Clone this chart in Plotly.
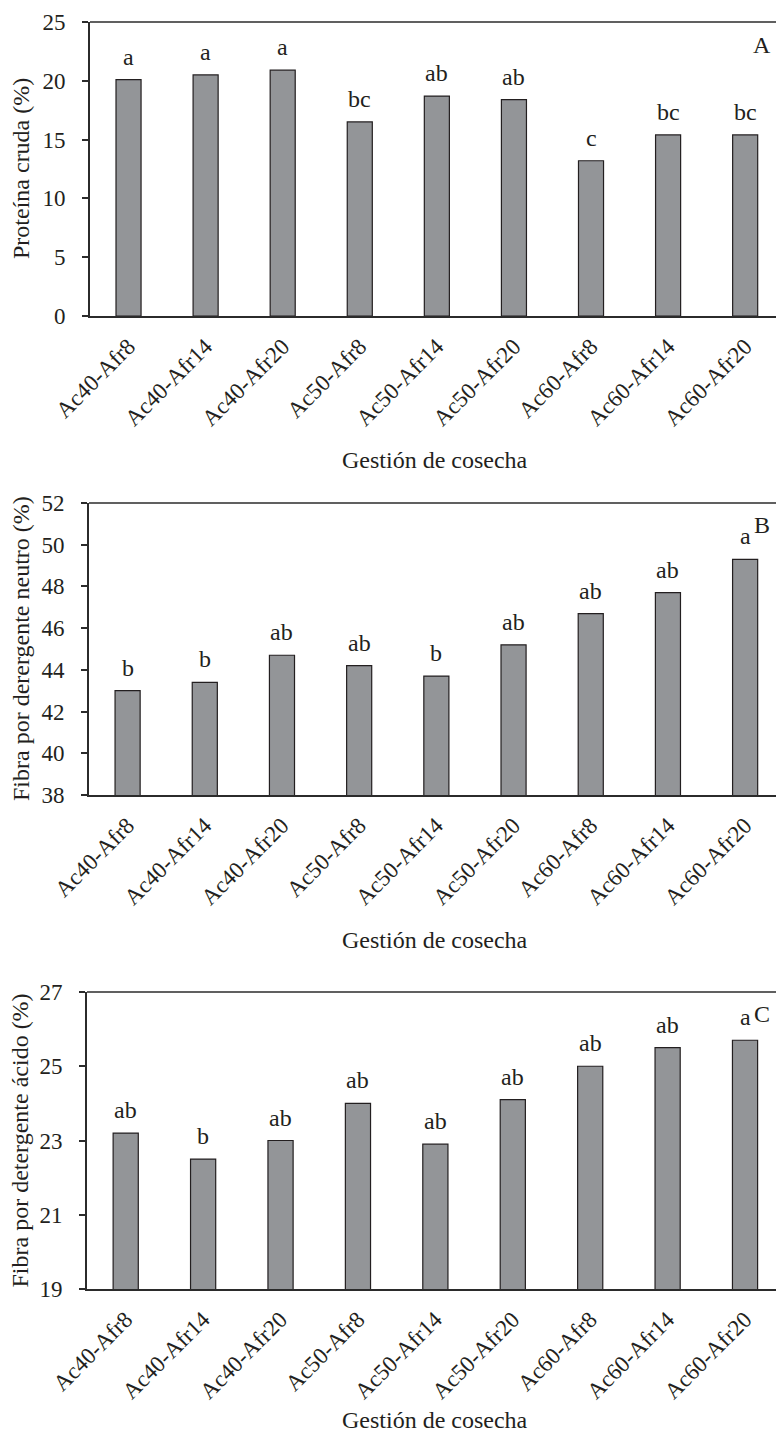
import plotly.graph_objects as go

categories = ["Ac40-Afr8", "Ac40-Afr14", "Ac40-Afr20", "Ac50-Afr8", "Ac50-Afr14",
              "Ac50-Afr20", "Ac60-Afr8", "Ac60-Afr14", "Ac60-Afr20"]

proteina = [20.1, 20.5, 20.9, 16.5, 18.7, 18.4, 13.2, 15.4, 15.4]
proteina_letters = ["a", "a", "a", "bc", "ab", "ab", "c", "bc", "bc"]

fdn = [43.0, 43.4, 44.7, 44.2, 43.7, 45.2, 46.7, 47.7, 49.3]
fdn_letters = ["b", "b", "ab", "ab", "b", "ab", "ab", "ab", "a"]

fda = [23.2, 22.5, 23.0, 24.0, 22.9, 24.1, 25.0, 25.5, 25.7]
fda_letters = ["ab", "b", "ab", "ab", "ab", "ab", "ab", "ab", "a"]

ytitles = ["Proteína cruda (%)", "Fibra por derergente neutro (%)", "Fibra por detergente ácido (%)"]
xtitle = "Gestión de cosecha"
panel_tags = ["A", "B", "C"]

W, H = 776, 1445
FONT = "Liberation Serif"
TXT = "#231f20"
BAR = "#939598"
AX = "#2b2b2b"

panels = [
    dict(vals=proteina, letters=proteina_letters, rng=[0, 25], dt=5, top=22, bot=316, left=90, xt=460, yt=21),
    dict(vals=fdn, letters=fdn_letters, rng=[38, 52], dt=2, top=503, bot=795, left=89, xt=940, yt=21),
    dict(vals=fda, letters=fda_letters, rng=[19, 27], dt=2, top=992, bot=1289, left=87, xt=1420, yt=19),
]

fig = go.Figure()
annotations = []
shapes = []
for i, p in enumerate(panels):
    n = "" if i == 0 else str(i + 1)
    xa, ya = "x" + n, "y" + n
    fig.add_trace(go.Bar(
        x=categories, y=p["vals"], xaxis=xa, yaxis=ya,
        width=0.325, base=0,
        marker=dict(color=BAR, line=dict(color=TXT, width=1.2)),
        hoverinfo="x+y", showlegend=False,
    ))
    fig.layout["xaxis" + n] = dict(
        domain=[p["left"] / W, 1], anchor=ya, range=[-0.5, 8.4],
        showline=True, linecolor=AX, linewidth=1.6, ticks="",
        tickangle=-45, tickfont=dict(family=FONT, size=23, color=TXT),
        showgrid=False, zeroline=False, ticklabelstandoff=6, automargin=False,
    )
    fig.layout["yaxis" + n] = dict(
        domain=[(H - p["bot"]) / H, (H - p["top"]) / H], anchor=xa,
        range=p["rng"], dtick=p["dt"], tick0=p["rng"][0],
        showline=True, linecolor=AX, linewidth=1.6,
        ticks="outside", ticklen=6, tickwidth=1.6, tickcolor=AX,
        tickfont=dict(family=FONT, size=23, color=TXT),
        showgrid=False, zeroline=False, ticklabelstandoff=12, automargin=False,
    )
    shapes.append(dict(type="line", xref=xa + " domain", yref=ya + " domain",
                       x0=0, x1=1, y0=1, y1=1,
                       line=dict(color=AX, width=1.6)))
    for c, v, l in zip(categories, p["vals"], p["letters"]):
        annotations.append(dict(x=c, y=v, xref=xa, yref=ya, text=l, showarrow=False,
                                yanchor="middle", yshift=23,
                                font=dict(family=FONT, size=24, color=TXT)))
    annotations.append(dict(x=p["yt"] / W, y=(H - (p["top"] + p["bot"]) / 2) / H,
                            xref="paper", yref="paper", text=ytitles[i], textangle=-90,
                            showarrow=False, xanchor="center", yanchor="middle",
                            font=dict(family=FONT, size=24, color=TXT)))
    annotations.append(dict(x=435 / W, y=(H - p["xt"]) / H, xref="paper", yref="paper",
                            text=xtitle, showarrow=False, xanchor="center", yanchor="middle",
                            font=dict(family=FONT, size=24, color=TXT)))

tag_pos = [45, 525, 1014]
for t, yy in zip(panel_tags, tag_pos):
    annotations.append(dict(x=762 / W, y=(H - yy) / H, xref="paper", yref="paper", text=t,
                            showarrow=False, xanchor="center", yanchor="middle",
                            font=dict(family=FONT, size=24, color=TXT)))

fig.update_layout(
    width=W, height=H, margin=dict(l=0, r=0, t=0, b=0, autoexpand=False),
    paper_bgcolor="white", plot_bgcolor="white",
    annotations=annotations, shapes=shapes, bargap=0.5,
)

fig.write_html("out.html", config={"displayModeBar": False},
               post_script="document.body.style.margin='0';document.body.style.overflow='hidden';")
